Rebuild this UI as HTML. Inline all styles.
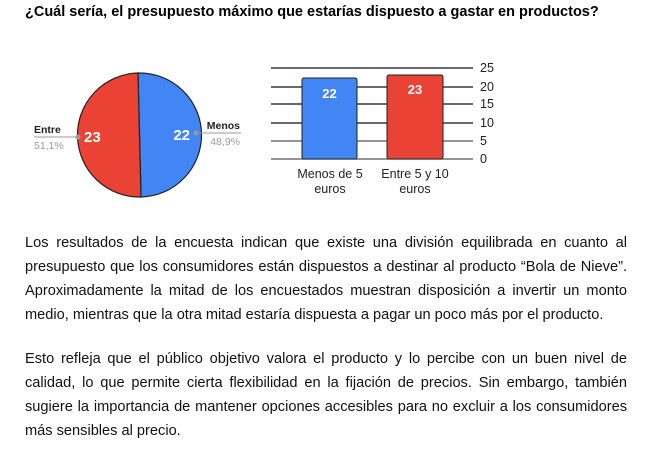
<!DOCTYPE html>
<html><head><meta charset="utf-8"><style>
body{margin:0;width:669px;height:460px;background:#fff;font-family:"Liberation Sans",sans-serif;overflow:hidden;position:relative}
h1{position:absolute;left:25px;top:4px;margin:0;font-size:14.5px;font-weight:bold;color:#000}
.p{position:absolute;left:25px;width:602px;font-size:14.6px;line-height:24px;text-align:justify;color:#111}
</style></head><body>
<h1>¿Cuál sería, el presupuesto máximo que estarías dispuesto a gastar en productos?</h1>
<svg style="position:absolute;left:0;top:0" width="669" height="220" font-family="Liberation Sans, sans-serif">
<path d="M138,73 A62,62 0 0,1 141,197 Z" fill="#4285f4" stroke="#222" stroke-width="1.2"/>
<path d="M138,73 L141,197 A62,62 0 0,1 138,73 Z" fill="#ea4335" stroke="#222" stroke-width="1.2"/>
<line x1="34" y1="137" x2="78" y2="137" stroke="#999"/><circle cx="78" cy="137" r="2.5" fill="#999"/>
<line x1="196" y1="133" x2="241" y2="133" stroke="#999"/><circle cx="196" cy="133" r="2.5" fill="#999"/>
<text x="34" y="133" font-size="10.5" font-weight="bold" fill="#222">Entre</text>
<text x="34" y="149" font-size="10.5" fill="#999">51,1%</text>
<text x="240" y="129" font-size="10.5" font-weight="bold" fill="#222" text-anchor="end">Menos</text>
<text x="240" y="145" font-size="10.5" fill="#999" text-anchor="end">48,9%</text>
<text x="84" y="142" font-size="15" font-weight="bold" fill="#fff">23</text>
<text x="190" y="140" font-size="15" font-weight="bold" fill="#fff" text-anchor="end">22</text>
<g stroke="#111" stroke-width="1.2">
<line x1="271" y1="68" x2="473" y2="68"/><line x1="271" y1="87" x2="473" y2="87"/>
<line x1="271" y1="104" x2="473" y2="104"/><line x1="271" y1="123" x2="473" y2="123"/>
<line x1="271" y1="141" x2="473" y2="141" stroke="#555"/><line x1="271" y1="159" x2="473" y2="159" stroke="#555"/>
</g>
<rect x="302" y="78" width="55" height="81" rx="2" fill="#4285f4" stroke="#222"/>
<rect x="387" y="75" width="56" height="84" rx="2" fill="#ea4335" stroke="#222"/>
<text x="329.5" y="98" font-size="13" font-weight="bold" fill="#fff" text-anchor="middle">22</text>
<text x="415" y="94" font-size="13" font-weight="bold" fill="#fff" text-anchor="middle">23</text>
<g font-size="12.5" fill="#222">
<text x="480" y="72">25</text><text x="480" y="91">20</text><text x="480" y="108">15</text>
<text x="480" y="127">10</text><text x="480" y="145">5</text><text x="480" y="163">0</text>
<text x="330" y="178" text-anchor="middle">Menos de 5</text><text x="330" y="193" text-anchor="middle">euros</text>
<text x="415" y="178" text-anchor="middle">Entre 5 y 10</text><text x="415" y="193" text-anchor="middle">euros</text>
</g>
</svg>
<div class="p" style="top:231px">Los resultados de la encuesta indican que existe una división equilibrada en cuanto al presupuesto que los consumidores están dispuestos a destinar al producto “Bola de Nieve”. Aproximadamente la mitad de los encuestados muestran disposición a invertir un monto medio, mientras que la otra mitad estaría dispuesta a pagar un poco más por el producto.</div>
<div class="p" style="top:347px">Esto refleja que el público objetivo valora el producto y lo percibe con un buen nivel de calidad, lo que permite cierta flexibilidad en la fijación de precios. Sin embargo, también sugiere la importancia de mantener opciones accesibles para no excluir a los consumidores más sensibles al precio.</div>
</body></html>
